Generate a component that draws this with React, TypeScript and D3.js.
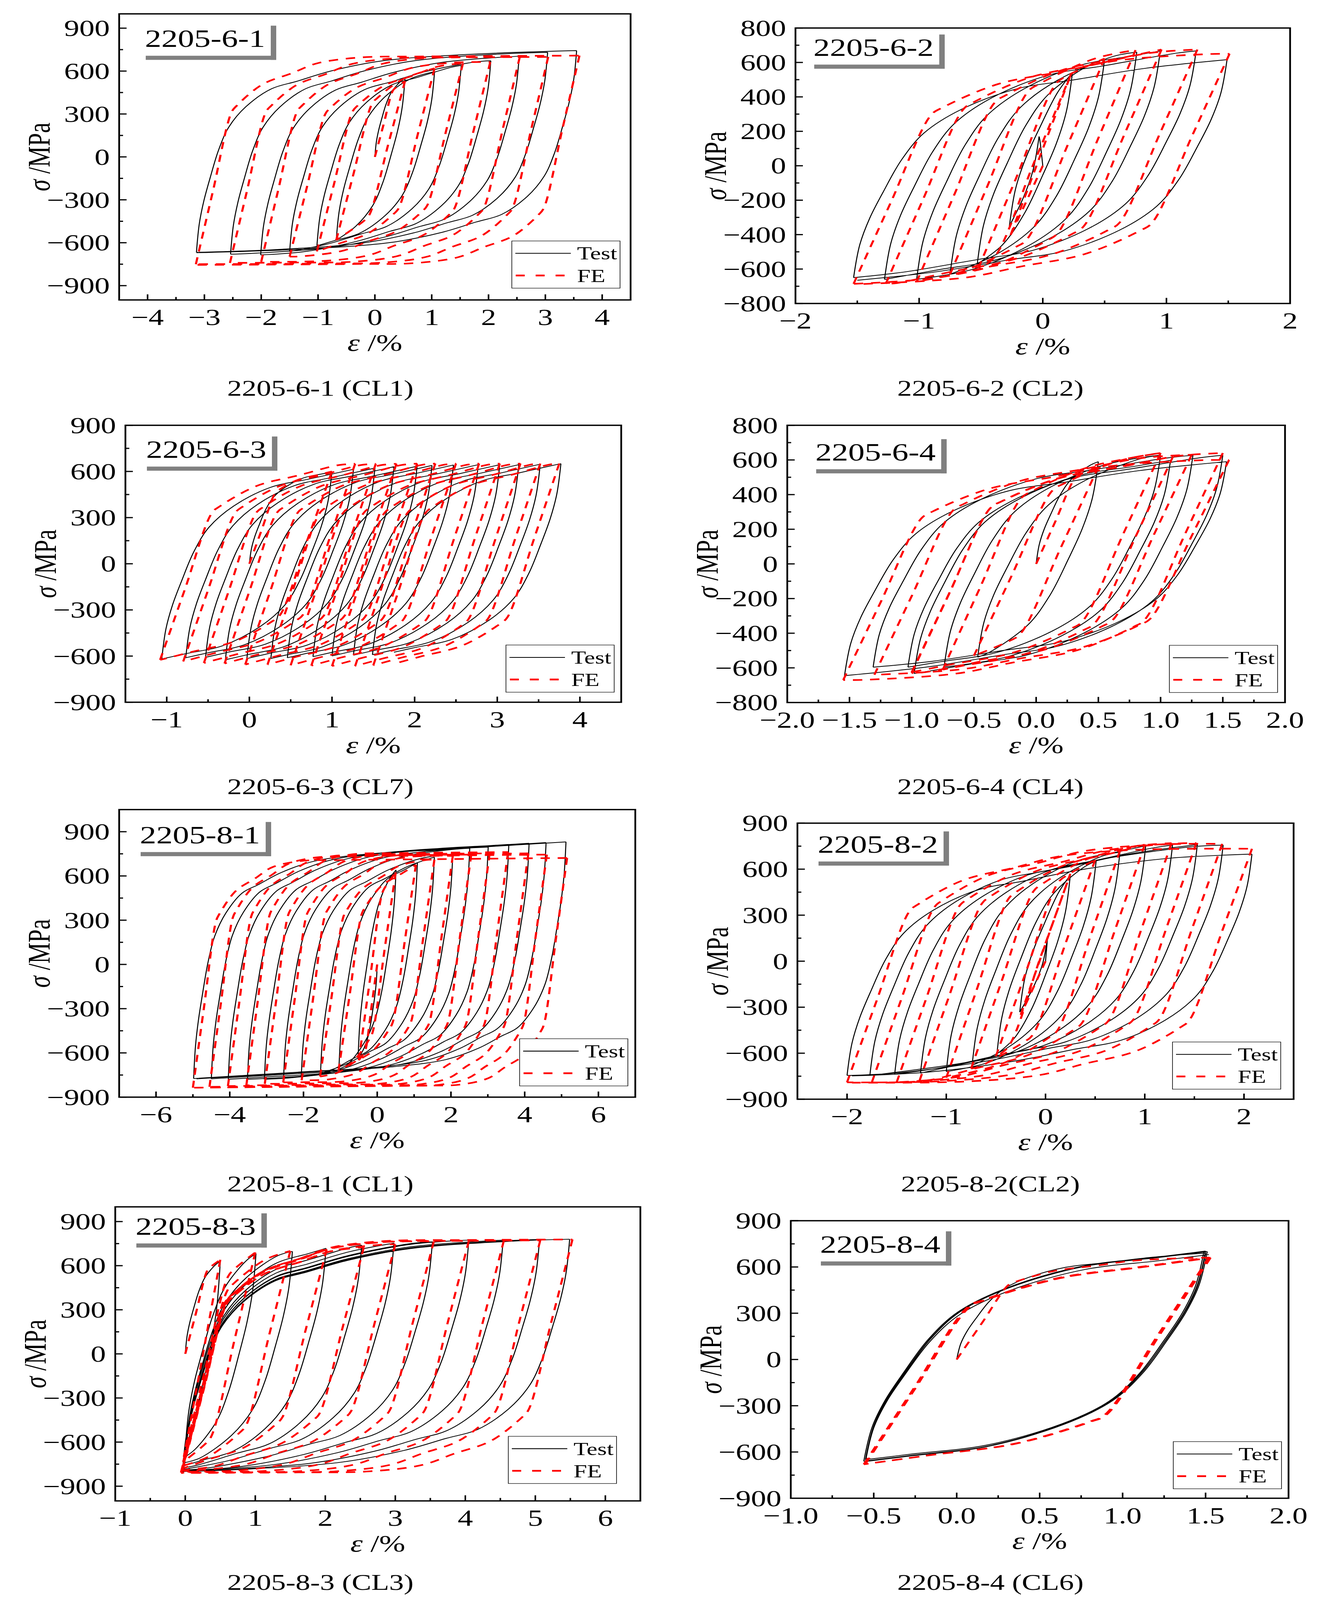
import React from 'react';
import * as d3 from 'd3';

const testBranchStrain = [0, 0.05, 0.13, 0.24, 0.39, 0.57, 0.87, 1.32, 1.77, 2.36, 3.26, 4.75, 6.62];
const testBranchStress = [0, 199, 359, 519, 715, 875, 1017, 1142, 1195, 1266, 1337, 1382, 1408];
const feBranchStrain = [0, 0.3, 0.63, 0.72, 1.17, 1.69, 2.14, 2.89, 4.01, 6.69];
const feBranchStress = [0, 520, 1084, 1129, 1280, 1360, 1431, 1472, 1479, 1485];

// reversal points (strain %, stress MPa) for each specimen
const p1TestStrain = [0, 0.53, -0.68, 1.05, -1.02, 1.52, -1.5, 2.04, -2.01, 2.54, -2.54, 3.04, -3.14, 3.55, -3.14];
const p1TestStress = [0, 548, -582, 596, -622, 640, -661, 672, -685, 704, -680, 731, -667, 743, -670];
const p1FeStrain = [0, 0.53, -0.68, 1.05, -1.02, 1.55, -1.5, 2.03, -2.0, 2.55, -2.55, 3.05, -3.15, 3.6, -3.15];
const p1FeStress = [0, 530, -582, 619, -661, 654, -697, 663, -733, 699, -741, 699, -750, 708, -755];

const p2TestStrain = [0, -0.03, -0.27, 0.24, -0.53, 0.5, -0.75, 0.76, -1.02, 0.95, -1.28, 1.24, -1.53, 1.49, -1.5];
const p2TestStress = [0, 170, -350, 542, -571, 620, -630, 660, -660, 667, -660, 667, -650, 616, -665];
const p2FeStrain = [0, -0.26, 0.23, -0.52, 0.5, -0.75, 0.75, -1.02, 0.96, -1.27, 1.25, -1.53, 1.51, -1.5];
const p2FeStress = [0, -402, 535, -594, 623, -631, 672, -675, 675, -686, 675, -686, 650, -688];

const p3TestStrain = [0, 1.0, -1.06, 1.26, -0.77, 1.52, -0.53, 1.75, -0.29, 2.03, -0.03, 2.21, 0.26, 2.47, 0.46, 2.77, 0.77, 3.03, 1.0, 3.26, 1.26, 3.52, 1.49, 3.77, 1.75];
const p3TestStress = [0, 598, -619, 614, -611, 622, -608, 631, -624, 634, -616, 639, -616, 642, -611, 644, -604, 644, -599, 644, -594, 647, -591, 651, -575];
const p3FeStrain = [0, 1.0, -1.08, 1.28, -0.8, 1.53, -0.55, 1.78, -0.3, 2.03, -0.05, 2.25, 0.22, 2.5, 0.5, 2.78, 0.75, 3.03, 1.0, 3.28, 1.28, 3.52, 1.5, 3.75, 1.75];
const p3FeStress = [0, 600, -625, 650, -635, 650, -645, 650, -648, 651, -655, 651, -655, 651, -660, 651, -662, 651, -665, 651, -665, 651, -660, 651, -650];

const p4TestStrain = [0, 0.5, -0.47, 1.0, -1.03, 1.5, -1.54, 1.53, -1.31, 1.26, -0.98, 1.08, -0.74, 0.99];
const p4TestStress = [0, 590, -538, 627, -596, 627, -645, 590, -596, 627, -633, 598, -596, 627];
const p4FeStrain = [0, 0.5, -0.5, 1.0, -1.0, 1.5, -1.55, 1.55, -1.3, 1.25, -1.0, 1.1, -0.75, 1.0];
const p4FeStress = [0, 560, -530, 640, -625, 640, -670, 600, -640, 630, -630, 620, -610, 640];

const p5TestStrain = [0, -0.52, 0.51, -1.04, 1.09, -1.54, 1.55, -2.06, 2.05, -2.54, 2.51, -3.06, 3.01, -3.52, 3.57, -4.04, 4.12, -4.5, 4.58, -4.98, 5.12, -4.9];
const p5TestStress = [0, -633, 641, -710, 690, -745, 728, -762, 748, -771, 788, -779, 796, -779, 814, -779, 822, -776, 826, -774, 831, -776];
const p5FeStrain = [0, -0.5, 0.5, -1.05, 1.05, -1.55, 1.55, -2.05, 2.05, -2.55, 2.55, -3.05, 3.05, -3.55, 3.55, -4.05, 4.1, -4.55, 4.6, -5.0, 5.15, -4.9];
const p5FeStress = [0, -650, 624, -720, 676, -760, 710, -785, 736, -800, 745, -810, 753, -820, 762, -825, 753, -830, 745, -836, 722, -836];

const p6TestStrain = [0, 0.02, -0.26, 0.25, -0.49, 0.51, -0.74, 0.75, -1.0, 1.01, -1.26, 1.28, -1.52, 1.53, -1.77, 1.79, -2.0, 2.08, -1.95];
const p6TestStress = [0, 150, -332, 562, -605, 653, -680, 711, -720, 753, -730, 757, -737, 760, -745, 757, -745, 698, -748];
const p6FeStrain = [0, -0.25, 0.25, -0.5, 0.5, -0.75, 0.75, -1.0, 1.0, -1.27, 1.27, -1.5, 1.52, -1.75, 1.78, -2.0, 2.08, -1.95];
const p6FeStress = [0, -350, 570, -620, 660, -700, 720, -760, 760, -780, 770, -790, 770, -790, 765, -790, 733, -792];

const p7TestStrain = [0, 0.5, 0, 1.01, 0, 1.53, -0.01, 2.01, -0.01, 2.52, -0.02, 2.98, -0.02, 3.53, -0.03, 4.05, -0.03, 4.54, -0.04, 5.06, -0.04, 5.49, -0.05];
const p7TestStress = [0, 629, -640, 682, -700, 697, -740, 718, -760, 739, -775, 753, -785, 762, -790, 774, -795, 774, -798, 778, -800, 780, -800];
const p7FeStrain = [0, 0.5, -0.02, 1.0, -0.03, 1.5, -0.03, 2.02, -0.04, 2.55, -0.04, 3.0, -0.05, 3.55, -0.05, 4.05, -0.06, 4.55, -0.06, 5.07, -0.06, 5.53, -0.06];
const p7FeStress = [0, 640, -700, 690, -735, 700, -760, 710, -780, 725, -790, 745, -795, 765, -800, 768, -803, 770, -806, 772, -808, 778, -810];

const p8TestStrain = [0, 1.5, -0.55, 1.51, -0.56, 1.5, -0.55, 1.49, -0.55, 1.52];
const p8TestStress = [0, 690, -650, 700, -660, 703, -662, 700, -660, 680];
const p8FeStrain = [0, 1.53, -0.56, 1.53, -0.56, 1.52, -0.55, 1.53];
const p8FeStress = [0, 660, -680, 660, -680, 662, -678, 660];

const testStrains = [p1TestStrain, p2TestStrain, p3TestStrain, p4TestStrain, p5TestStrain, p6TestStrain, p7TestStrain, p8TestStrain];
const testStresses = [p1TestStress, p2TestStress, p3TestStress, p4TestStress, p5TestStress, p6TestStress, p7TestStress, p8TestStress];
const feStrains = [p1FeStrain, p2FeStrain, p3FeStrain, p4FeStrain, p5FeStrain, p6FeStrain, p7FeStrain, p8FeStrain];
const feStresses = [p1FeStress, p2FeStress, p3FeStress, p4FeStress, p5FeStress, p6FeStress, p7FeStress, p8FeStress];

const panelNames = ['2205-6-1', '2205-6-2', '2205-6-3', '2205-6-4', '2205-8-1', '2205-8-2', '2205-8-3', '2205-8-4'];
const panelCaptions = ['2205-6-1 (CL1)', '2205-6-2 (CL2)', '2205-6-3 (CL7)', '2205-6-4 (CL4)',
  '2205-8-1 (CL1)', '2205-8-2(CL2)', '2205-8-3 (CL3)', '2205-8-4 (CL6)'];
const xDomains = [[-4.5, 4.5], [-2, 2], [-1.5, 4.5], [-2, 2], [-7, 7], [-2.5, 2.5], [-1, 6.5], [-1, 2]];
const yDomains = [[-1000, 1000], [-800, 800], [-900, 900], [-800, 800], [-900, 1050], [-900, 900], [-1000, 1000], [-900, 900]];
const xTicks = [
  [-4, -3, -2, -1, 0, 1, 2, 3, 4],
  [-2, -1, 0, 1, 2],
  [-1, 0, 1, 2, 3, 4],
  [-2, -1.5, -1, -0.5, 0, 0.5, 1, 1.5, 2],
  [-6, -4, -2, 0, 2, 4, 6],
  [-2, -1, 0, 1, 2],
  [-1, 0, 1, 2, 3, 4, 5, 6],
  [-1, -0.5, 0, 0.5, 1, 1.5, 2],
];
const xTickDecimals = [0, 0, 0, 1, 0, 0, 0, 1];
const yTicks300 = [-900, -600, -300, 0, 300, 600, 900];
const yTicks200 = [-800, -600, -400, -200, 0, 200, 400, 600, 800];
const yTicks = [yTicks300, yTicks200, yTicks300, yTicks200, yTicks300, yTicks300, yTicks300, yTicks300];
const hasLegend = [true, false, true, true, true, true, true, true];

// layout (pixels of the 3399 x 5425 figure)
const W = 3399;
const H = 5425;
const frames = [
  [305, 47, 1614, 1017], [2036, 95, 3302, 1029],
  [321, 1442, 1590, 2381], [2015, 1442, 3289, 2382],
  [305, 2745, 1626, 3720], [2041, 2791, 3311, 3727],
  [295, 4092, 1639, 5089], [2024, 4139, 3298, 5080],
];
const labelPos = [[371, 159], [2082, 189], [374, 1552], [2087, 1561], [358, 2859], [2093, 2891], [347, 4186], [2099, 4247]];
const legendPos = [[1310, 817], null, [1295, 2187], [2993, 2188], [1330, 3522], [3001, 3533], [1301, 4870], [3003, 4888]];
const captionX = [820, 2535];
const captionY = [1342, 2692, 4040, 5390];

const FONT = '"Liberation Serif", "Times New Roman", serif';
const TEST_W = 2.6;
const FE_W = 5.5;
const FE_DASH = '24 20';

const fmt = (v: number, dec: number) => {
  const s = Math.abs(v).toFixed(dec);
  return v < 0 ? '\u2212' + s : s;
};

function minorTicks(major: number[], domain: number[]) {
  const step = (major[1] - major[0]) / 2;
  const out: number[] = [];
  const start = Math.ceil((domain[0] - major[0]) / step - 1e-9);
  for (let k = start; major[0] + k * step <= domain[1] + 1e-9; k++) {
    if (k % 2 !== 0) out.push(major[0] + k * step);
  }
  return out;
}

// builds one path out of successive half-cycles between the reversal points
function loopPath(strain: number[], stress: number[], tplE: number[], tplS: number[],
  x: d3.ScaleLinear<number, number>, y: d3.ScaleLinear<number, number>) {
  const line = d3.line<number[]>()
    .x(p => x(p[0]))
    .y(p => y(p[1]))
    .curve(d3.curveCatmullRom.alpha(0.5));
  let d = '';
  for (let i = 0; i < strain.length - 1; i++) {
    const e0 = strain[i], s0 = stress[i], e1 = strain[i + 1], s1 = stress[i + 1];
    const f = i === 0 ? 0.5 : 1; // first loading follows the half-size branch
    const nodesE = tplE.map(v => v * f);
    const nodesS = tplS.map(v => v * f);
    const shape = d3.scaleLinear().domain(nodesE).range(nodesS);
    const D = Math.abs(e1 - e0);
    const dir = Math.sign(e1 - e0);
    const k = (s1 - s0) / shape(D);
    const pts: number[][] = [[e0, s0]];
    nodesE.forEach(u => {
      if (u > 0 && u < D * 0.96) pts.push([e0 + dir * u, s0 + k * shape(u)]);
    });
    pts.push([e1, s1]);
    d += line(pts) || '';
  }
  return d;
}

const Panel: React.FC<{ i: number }> = ({ i }) => {
  const [l, t, r, b] = frames[i];
  const x = d3.scaleLinear().domain(xDomains[i]).range([l, r]);
  const y = d3.scaleLinear().domain(yDomains[i]).range([b, t]);
  const xMinor = minorTicks(xTicks[i], xDomains[i]);
  const yMinor = minorTicks(yTicks[i], yDomains[i]);
  const testD = loopPath(testStrains[i], testStresses[i], testBranchStrain, testBranchStress, x, y);
  const feD = loopPath(feStrains[i], feStresses[i], feBranchStrain, feBranchStress, x, y);
  const [lx, ly] = labelPos[i];
  const col = i % 2;
  const row = Math.floor(i / 2);
  const lg = legendPos[i];

  return (
    <g>
      <defs>
        <clipPath id={`clip${i}`}>
          <rect x={l} y={t} width={r - l} height={b - t} />
        </clipPath>
      </defs>

      <g clipPath={`url(#clip${i})`}>
        <path d={testD} fill="none" stroke="#000" strokeWidth={TEST_W} strokeLinejoin="round" />
        <path d={feD} fill="none" stroke="#ff0000" strokeWidth={FE_W} strokeDasharray={FE_DASH} />
      </g>

      {/* inward ticks */}
      {xTicks[i].map(v => (
        <line key={'xt' + v} x1={x(v)} x2={x(v)} y1={b} y2={b - 19} stroke="#000" strokeWidth={4} />
      ))}
      {xMinor.map(v => (
        <line key={'xm' + v} x1={x(v)} x2={x(v)} y1={b} y2={b - 10} stroke="#000" strokeWidth={4} />
      ))}
      {yTicks[i].map(v => (
        <line key={'yt' + v} x1={l} x2={l + 19} y1={y(v)} y2={y(v)} stroke="#000" strokeWidth={4} />
      ))}
      {yMinor.map(v => (
        <line key={'ym' + v} x1={l} x2={l + 10} y1={y(v)} y2={y(v)} stroke="#000" strokeWidth={4} />
      ))}

      <rect x={l} y={t} width={r - l} height={b - t} fill="none" stroke="#000" strokeWidth={4.5} />

      {xTicks[i].map(v => (
        <text key={'xl' + v} x={x(v)} y={b + 85} fontSize={78} textAnchor="middle">
          {fmt(v, xTickDecimals[i])}
        </text>
      ))}
      {yTicks[i].map(v => (
        <text key={'yl' + v} x={l - 24} y={y(v)} dy="0.34em" fontSize={78} textAnchor="end">
          {fmt(v, 0)}
        </text>
      ))}

      <text x={(l + r) / 2} y={b + 172} fontSize={80} textAnchor="middle">
        <tspan fontStyle="italic">ε</tspan> /%
      </text>
      <text transform={`translate(${l - 205},${(t + b) / 2}) rotate(-90)`} fontSize={80}
        textAnchor="middle" dominantBaseline="central">
        <tspan fontStyle="italic">σ</tspan> /MPa
      </text>

      {/* specimen tag with grey shadow */}
      <rect x={lx + 2} y={ly + 30} width={334} height={14} fill="#808080" />
      <rect x={lx + 322} y={ly - 72} width={14} height={116} fill="#808080" />
      <text x={lx} y={ly} fontSize={84}>{panelNames[i]}</text>

      {hasLegend[i] && lg && (
        <g>
          <rect x={lg[0]} y={lg[1]} width={277} height={160} fill="#fff" stroke="#000" strokeWidth={1.6} />
          <line x1={lg[0] + 9} x2={lg[0] + 151} y1={lg[1] + 42} y2={lg[1] + 42} stroke="#000" strokeWidth={2.8} />
          <text x={lg[0] + 167} y={lg[1] + 63} fontSize={62}>Test</text>
          <line x1={lg[0] + 10} x2={lg[0] + 150} y1={lg[1] + 117} y2={lg[1] + 117} stroke="#ff0000"
            strokeWidth={6} strokeDasharray="23 28" />
          <text x={lg[0] + 167} y={lg[1] + 139} fontSize={62}>FE</text>
        </g>
      )}

      <text x={captionX[col]} y={captionY[row]} fontSize={75} textAnchor="middle">{panelCaptions[i]}</text>
    </g>
  );
};

export default function App() {
  // the visible page can be shorter than the figure; fit the whole figure into it
  const viewH = typeof window !== 'undefined' && window.innerHeight > 0 ? Math.min(H, window.innerHeight) : H;
  return (
    <div style={{ margin: -8, width: W, height: viewH, overflow: 'hidden' }}>
      <svg width={W} height={viewH} viewBox={`0 0 ${W} ${H}`} preserveAspectRatio="none"
        fontFamily={FONT} style={{ display: 'block' }}>
        <rect x={0} y={0} width={W} height={H} fill="#fff" />
        {panelNames.map((_, i) => <Panel key={i} i={i} />)}
      </svg>
    </div>
  );
}
